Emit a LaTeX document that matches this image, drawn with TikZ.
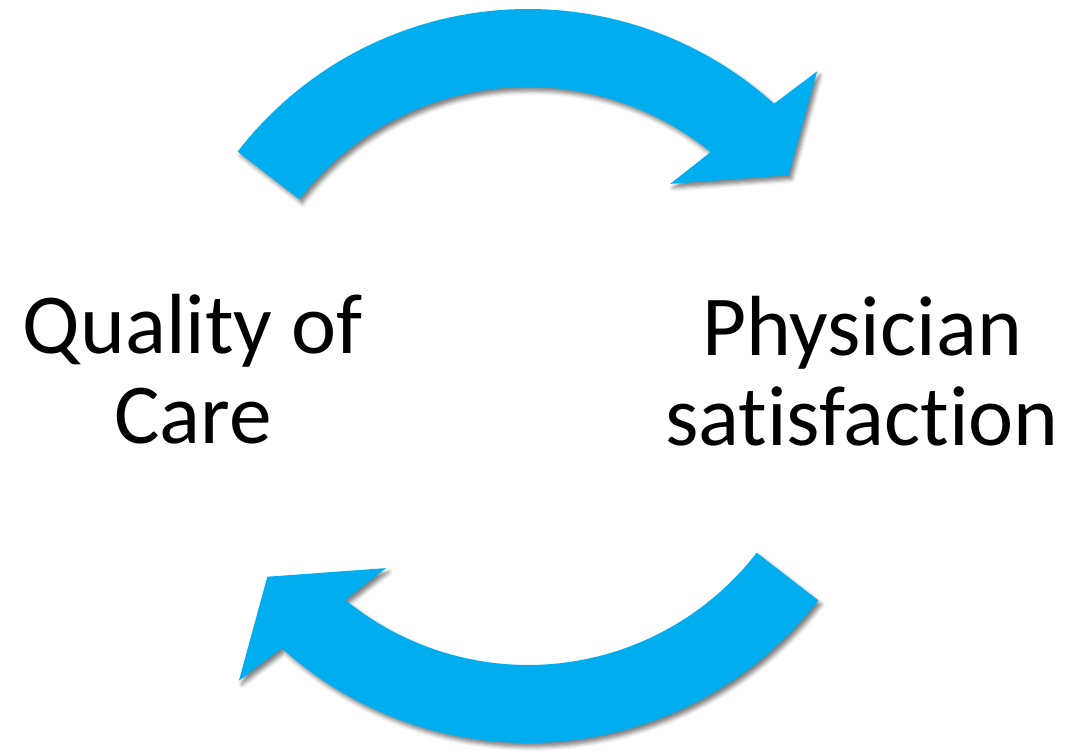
\documentclass[tikz,border=0pt]{standalone}
\usepackage{fontspec}
\setmainfont{Carlito}[Ligatures=NoCommon]
\usepackage{tikz}
\usetikzlibrary{shadows.blur}
\definecolor{cycleblue}{RGB}{0,174,239}
\tikzset{
  base/.style={font=\fontsize{48.6}{51.2}\selectfont, align=center, inner sep=0pt, text=black},
  band/.style={fill=cycleblue, blur shadow={shadow xshift=0.06cm, shadow yshift=-0.08cm, shadow blur radius=0.08cm, shadow opacity=50}},
}

\begin{document}
\begin{tikzpicture}[x=0.02cm,y=0.02cm]
  \useasboundingbox (0,0) rectangle (1069,751);
  \coordinate (hub) at (528,375);
  % curved arrows, the lower one is the upper one turned by 180
  \foreach \a in {0,180}{
    \path[band,shift={(hub)}] (142.3+\a:367) arc[start angle=142.3+\a, end angle=47.9+\a, radius=367]
      -- (46.5+\a:420) -- (37.6+\a:329) -- (53.5+\a:239) -- (50.8+\a:289)
      arc[start angle=50.8+\a, end angle=142.3+\a, radius=289] -- cycle;
  }
  % labels
  \node[base] (quality) at (193,382) {Quality of\\Care};
  \node[base] (physician) at (862,380) {Physician\\satisfaction};
\end{tikzpicture}
\end{document}
